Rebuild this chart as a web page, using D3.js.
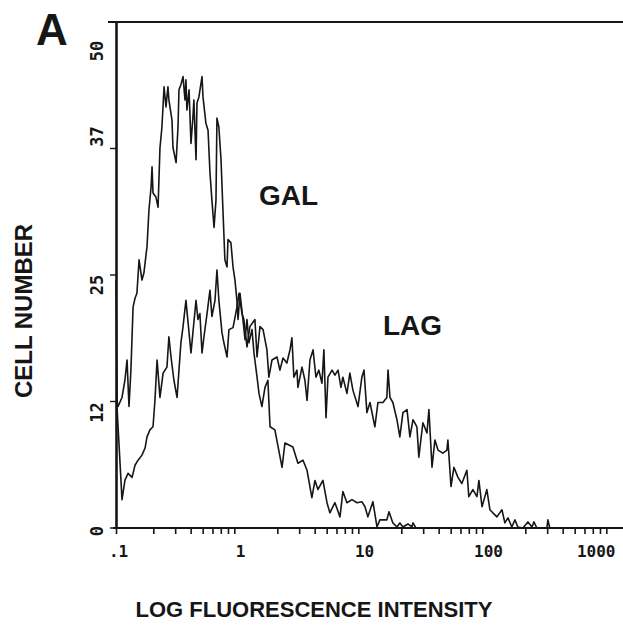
<!DOCTYPE html>
<html>
<head>
<meta charset="utf-8">
<script src="https://cdn.jsdelivr.net/npm/d3@7"></script>
<style>
  html, body { margin: 0; padding: 0; background: #fff; }
  svg { display: block; }
</style>
</head>
<body>
<svg id="chart" width="623" height="627"></svg>
<script>
// ---- data (256 log channels over 4 decades, 64 channels per decade) ----
const galChannel = [0, 0.6, 1.0, 3.1, 4.6, 5.7, 6.7, 7.7, 8.8, 9.8, 10.8, 11.9, 13.4, 14.4, 16.0, 17.0, 18.1, 18.6, 19.1, 20.6,
  21.7, 22.7, 23.7, 24.8, 25.8, 26.8, 27.3, 28.9, 29.4, 31.0, 32.0, 32.5, 33.5, 34.6, 35.6, 36.1, 36.6, 37.7, 38.7, 39.7,
  40.2, 41.3, 41.8, 42.8, 44.4, 44.9, 46.4, 47.5, 48.5, 49.5, 50.6, 51.6, 52.1, 53.1, 54.2, 55.2, 56.2, 57.3, 57.8, 59.3,
  60.4, 61.4, 62.4, 63.0, 64.0, 65.5, 66.6, 67.6, 68.6, 70.2, 71.2, 72.8, 73.8, 75.3, 76.9, 78.4, 79.5, 82.0, 85.7, 87.2,
  91.3, 93.9, 96.5, 98.6, 101.1, 102.7, 104.2, 106.8, 108.9, 110.4, 113.0, 115.6, 117.1, 119.2, 121.8, 124.4, 126.9, 128.5, 130.0, 132.6,
  134.7, 136.2, 139.8, 140.9, 142.9, 145.0, 146.5, 148.1, 150.7, 152.7, 153.3, 154.8, 256];
const galCount = [24.5, 12.5, 12.0, 12.9, 14.6, 16.6, 12.0, 15.6, 21.8, 22.7, 23.2, 26.5, 24.5, 25.2, 27.8, 31.4, 33.7, 35.7, 33.1, 32.7,
  31.7, 37.6, 39.6, 43.6, 41.6, 43.6, 42.3, 40.3, 37.6, 36.1, 39.6, 43.3, 43.8, 44.6, 42.3, 44.3, 41.3, 43.3, 38.0, 40.6,
  42.3, 36.4, 42.0, 42.6, 44.6, 42.6, 40.0, 39.3, 35.1, 32.4, 29.7, 32.4, 40.5, 39.6, 36.4, 31.4, 26.5, 25.8, 28.5, 28.2,
  25.8, 24.5, 22.5, 20.6, 23.2, 20.6, 18.6, 20.6, 18.3, 19.6, 17.3, 14.9, 13.3, 12.0, 13.9, 14.6, 10.0, 9.7, 6.0, 8.4,
  8.0, 6.4, 6.7, 5.7, 3.0, 4.7, 3.8, 4.7, 2.5, 1.5, 2.5, 1.1, 3.6, 2.5, 2.8, 2.5, 2.6, 2.1, 1.1, 2.6,
  0.1, 0.8, 0.8, 1.6, 0.5, 0.1, 0.5, 0.1, 0.4, 0.1, 0.5, 0, 0];

const lagChannel = [0, 0.5, 3.1, 4.6, 6.2, 8.3, 9.8, 11.4, 13.4, 15.0, 16.0, 17.5, 19.1, 20.1, 21.2, 22.7, 24.3, 26.3, 27.3, 28.4,
  29.9, 31.5, 32.5, 33.5, 34.6, 36.1, 37.2, 38.7, 39.7, 41.3, 42.3, 43.3, 44.4, 45.4, 47.0, 48.5, 49.5, 51.1, 52.1, 53.1,
  54.7, 55.7, 57.3, 58.3, 60.4, 62.4, 63.5, 65.0, 66.0, 67.6, 69.1, 71.7, 72.8, 74.3, 75.9, 77.9, 78.9, 80.5, 83.1, 84.6,
  86.2, 88.2, 89.8, 90.8, 91.8, 93.4, 93.9, 96.0, 97.5, 98.6, 100.1, 101.7, 103.2, 104.7, 106.3, 107.3, 108.4, 109.4, 111.5, 113.0,
  114.6, 116.1, 117.1, 119.2, 120.7, 122.3, 124.9, 126.9, 128.0, 129.5, 131.1, 133.6, 135.2, 137.8, 139.8, 140.4, 141.4, 142.9, 145.0, 146.5,
  148.1, 150.2, 151.7, 153.3, 155.3, 156.3, 158.4, 160.5, 161.5, 163.1, 164.6, 166.2, 168.7, 170.8, 171.3, 172.9, 174.4, 176.5, 178.5, 181.1,
  182.1, 184.2, 186.3, 187.3, 188.9, 190.4, 191.4, 193.0, 194.5, 196.6, 199.2, 200.7, 202.3, 204.3, 205.9, 207.4, 210.0, 212.6, 214.7, 215.7,
  217.2, 222.4, 222.9, 223.9, 256];
const lagCount = [12.0, 12.0, 2.8, 4.7, 5.4, 5.0, 6.2, 6.7, 7.2, 7.9, 9.0, 9.7, 10.0, 12.6, 16.6, 12.9, 15.3, 15.9, 18.9, 16.9,
  14.6, 12.9, 15.6, 18.3, 19.9, 22.5, 20.3, 17.3, 19.3, 22.5, 20.6, 21.2, 17.3, 18.9, 21.2, 23.5, 20.9, 22.5, 25.5, 22.5,
  19.3, 18.3, 16.9, 19.6, 19.8, 21.8, 23.2, 21.2, 20.6, 17.9, 19.9, 20.6, 16.9, 19.9, 19.6, 17.6, 14.9, 16.6, 16.9, 15.6,
  16.8, 16.3, 17.6, 18.8, 14.9, 15.6, 13.9, 15.9, 14.6, 12.6, 16.6, 17.6, 14.9, 15.6, 14.3, 17.6, 10.9, 14.9, 15.6, 15.1,
  15.6, 13.9, 14.9, 13.3, 15.3, 13.6, 12.0, 14.9, 15.6, 11.4, 12.4, 10.0, 12.4, 12.4, 12.9, 15.6, 12.9, 12.4, 10.7, 9.0,
  11.4, 11.7, 9.0, 10.7, 10.0, 7.0, 10.4, 9.4, 11.7, 6.0, 8.7, 7.7, 7.4, 7.7, 8.7, 4.1, 6.0, 5.0, 4.4, 5.7,
  3.1, 3.8, 3.1, 4.7, 2.1, 3.1, 3.8, 1.8, 1.5, 1.1, 1.8, 0.5, 1.0, 0.1, 0.8, 0.1, 0, 0.6, 0.1, 0.6,
  0, 0, 0.8, 0, 0];

const xTickValues = [0.1, 1, 10, 100, 1000];
const xTickLabels = [".1", "1", "10", "100", "1000"];
const yTickValues = [0, 12.5, 25, 37.5, 50];
const yTickLabels = ["0", "12", "25", "37", "50"];
const seriesNames = ["GAL", "LAG"];

// ---- drawing ----
const svg = d3.select("#chart");
const x = d3.scaleLog().domain([0.1, 1000]).range([116, 612]);
const y = d3.scaleLinear().domain([0, 50]).range([528, 22]);
const chanToFl = c => 0.1 * Math.pow(10, c / 64);

const ink = "#161616";
const monoFont = "'DejaVu Sans Mono', 'Liberation Mono', monospace";
const sansFont = "'Liberation Sans', Arial, Helvetica, sans-serif";

// minor ticks: .1 plus 2..9 in each decade
const minorTicks = [0.1];
[0.1, 1, 10, 100].forEach(d => { for (let k = 2; k <= 9; k++) minorTicks.push(+(d * k).toPrecision(3)); });

// x axis ticks
const gxTicks = svg.append("g").attr("transform", "translate(0,528)")
  .call(d3.axisBottom(x).tickValues(minorTicks).tickFormat("").tickSize(6).tickSizeOuter(0));
gxTicks.select(".domain").remove();
gxTicks.selectAll(".tick line").attr("stroke", ink).attr("stroke-width", 1.6);

// x axis labels
const gxLab = svg.append("g").attr("transform", "translate(0,528)")
  .call(d3.axisBottom(x).tickValues(xTickValues).tickFormat((d, i) => xTickLabels[i]).tickSize(0).tickPadding(18));
gxLab.select(".domain").remove();
gxLab.selectAll(".tick text")
  .attr("font-family", monoFont).attr("font-weight", "bold").attr("font-size", 16).attr("fill", ink)
  .each(function (d, i) {
    const t = d3.select(this);
    if (i === 0) t.attr("dx", 2);
    if (i === xTickValues.length - 1) t.attr("text-anchor", "end").attr("dx", 3);
  });

// baseline and top frame
svg.append("line").attr("x1", 113).attr("x2", 623).attr("y1", y(0)).attr("y2", y(0))
  .attr("stroke", ink).attr("stroke-width", 2);
svg.append("line").attr("x1", 108).attr("x2", 623).attr("y1", y(50)).attr("y2", y(50))
  .attr("stroke", ink).attr("stroke-width", 2);

// y axis
const gy = svg.append("g").attr("transform", "translate(116,0)")
  .call(d3.axisLeft(y).tickValues(yTickValues).tickFormat((d, i) => yTickLabels[i]).tickSize(6).tickPadding(4).tickSizeOuter(0));
gy.select(".domain").attr("stroke", ink).attr("stroke-width", 2.6);
gy.selectAll(".tick line").attr("stroke", ink).attr("stroke-width", 1.4);
const yLabelShift = [3, 11, 10, -12, 29];
gy.selectAll(".tick text")
  .attr("font-family", monoFont).attr("font-weight", "bold").attr("font-size", 17).attr("fill", ink)
  .attr("text-anchor", "middle").attr("dy", null).attr("x", 0)
  .attr("transform", (d, i) => `translate(-19,${y(d) + yLabelShift[i]}) rotate(-90)`)
  .attr("y", 0).attr("dominant-baseline", "central")
  .each(function () { d3.select(this.parentNode).attr("transform", "translate(0,0)"); });
gy.selectAll(".tick line").attr("transform", d => `translate(0,${y(d)})`);

// curves
const line = d3.line().x(d => x(chanToFl(d[0]))).y(d => y(d[1]));
const galData = d3.zip(galChannel, galCount);
const lagData = d3.zip(lagChannel, lagCount);
svg.append("path").datum(lagData).attr("d", line)
  .attr("fill", "none").attr("stroke", ink).attr("stroke-width", 1.6).attr("stroke-linejoin", "round");
svg.append("path").datum(galData).attr("d", line)
  .attr("fill", "none").attr("stroke", ink).attr("stroke-width", 1.6).attr("stroke-linejoin", "round");

// series labels
svg.append("text").text(seriesNames[0]).attr("x", 259).attr("y", 205)
  .attr("font-family", sansFont).attr("font-weight", "bold").attr("font-size", 28).attr("fill", ink);
svg.append("text").text(seriesNames[1]).attr("x", 383).attr("y", 335)
  .attr("font-family", sansFont).attr("font-weight", "bold").attr("font-size", 28).attr("fill", ink);

// panel letter
svg.append("text").text("A").attr("x", 36).attr("y", 45)
  .attr("font-family", sansFont).attr("font-weight", "bold").attr("font-size", 44).attr("fill", ink);

// axis titles
svg.append("text").text("CELL NUMBER")
  .attr("transform", "translate(32,311) rotate(-90)").attr("text-anchor", "middle")
  .attr("font-family", sansFont).attr("font-weight", "bold").attr("font-size", 24).attr("fill", ink);
svg.append("text").text("LOG FLUORESCENCE INTENSITY")
  .attr("x", 314).attr("y", 617).attr("text-anchor", "middle")
  .attr("font-family", sansFont).attr("font-weight", "bold").attr("font-size", 22).attr("fill", ink);
</script>
</body>
</html>
